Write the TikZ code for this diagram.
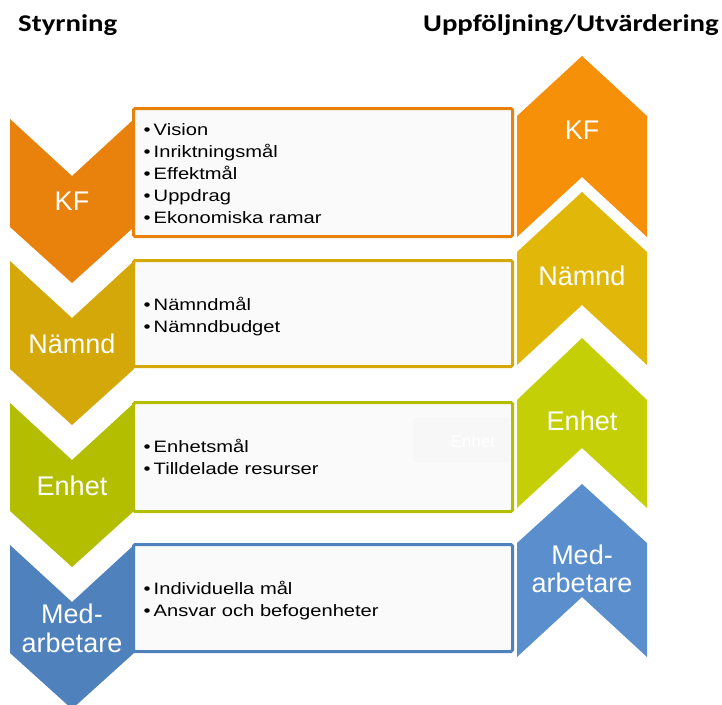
\documentclass[tikz,border=0pt]{standalone}
\usepackage{fontspec}
\setmainfont{Liberation Sans}
\newfontfamily\headfont{Carlito}[FakeStretch=1.2]
\newfontfamily\listfont{Liberation Sans}[FakeStretch=1.22]
\definecolor{kfL}{HTML}{E9820C}
\definecolor{kfR}{HTML}{F79009}
\definecolor{nmL}{HTML}{D3A808}
\definecolor{nmR}{HTML}{E1B80A}
\definecolor{enL}{HTML}{B4BE00}
\definecolor{enR}{HTML}{C4CF06}
\definecolor{mdL}{HTML}{4F81BD}
\definecolor{mdR}{HTML}{5A8ECD}
\definecolor{boxfill}{HTML}{FAFAFA}
\definecolor{ghostfill}{HTML}{F7F7F7}
\tikzset{
  chevlabel/.style={text=white, inner sep=0pt, anchor=base, font=\fontsize{27}{29}\selectfont},
  listline/.style={inner sep=0pt, anchor=base west, font=\listfont\fontsize{16.5}{22}\selectfont},
  infobox/.style={fill=boxfill, line width=3pt, rounded corners=1.5pt},
  heading/.style={inner sep=0pt, anchor=base west, font=\headfont\bfseries\fontsize{24}{28}\selectfont}
}
\newcommand\leftchev[2]{%
  \fill[#1] (10,#2) -- (72,#2+57) -- (134,#2) -- (134,#2+108) -- (72,#2+164) -- (10,#2+108) -- cycle;}
\newcommand\rightchev[5]{%
  \fill[#1] (517,#3) -- (582,#2) -- (647,#3) -- (647,#5) -- (582,#4) -- (517,#5) -- cycle;}
\begin{document}
\begin{tikzpicture}[x=1pt,y=-1pt]
\useasboundingbox (0,0) rectangle (722,704);
% headings
\node[heading] (hstyr) at (18,31) {Styrning};
\node[heading] (hupp) at (423,31) {Uppföljning/Utvärdering};
% left chevrons
\leftchev{kfL}{119}
\leftchev{nmL}{261}
\leftchev{enL}{403}
\leftchev{mdL}{545}
% right chevrons
\rightchev{kfR}{56}{116}{177}{237}
\rightchev{nmR}{192}{252}{305}{365}
\rightchev{enR}{338}{400}{448}{508}
\rightchev{mdR}{484}{543}{597}{657}
% boxes
\draw[infobox, draw=kfL] (133.5,108.5) rectangle (512.5,236.5);
\draw[infobox, draw=nmL] (133.5,260.5) rectangle (512.5,366.5);
\draw[infobox, draw=enL] (133.5,402.5) rectangle (512.5,511.5);
\draw[infobox, draw=mdL] (133.5,544.5) rectangle (512.5,651.5);
% faint ghost text
\fill[ghostfill] (413,418) rectangle (510,462);
\node[text=white, inner sep=0pt, anchor=base, font=\fontsize{17}{20}\selectfont] (ghost) at (473,447) {Enhet};
% left labels
\node[chevlabel] (lkf) at (72,210) {KF};
\node[chevlabel] (lnm) at (72,353) {Nämnd};
\node[chevlabel] (len) at (72,495) {Enhet};
\node[chevlabel] (lmd1) at (72,623) {Med-};
\node[chevlabel] (lmd2) at (72,652) {arbetare};
% right labels
\node[chevlabel] (rkf) at (582,139) {KF};
\node[chevlabel] (rnm) at (582,285) {Nämnd};
\node[chevlabel] (ren) at (582,430) {Enhet};
\node[chevlabel] (rmd1) at (582,564) {Med-};
\node[chevlabel] (rmd2) at (582,592) {arbetare};
% lists
\node[listline] (k1) at (143.5,135) {•\hspace{3pt}Vision};
\node[listline] (k2) at (143.5,157) {•\hspace{3pt}Inriktningsmål};
\node[listline] (k3) at (143.5,179) {•\hspace{3pt}Effektmål};
\node[listline] (k4) at (143.5,201) {•\hspace{3pt}Uppdrag};
\node[listline] (k5) at (143.5,223) {•\hspace{3pt}Ekonomiska ramar};
\node[listline] (n1) at (143.5,310) {•\hspace{3pt}Nämndmål};
\node[listline] (n2) at (143.5,332) {•\hspace{3pt}Nämndbudget};
\node[listline] (e1) at (143.5,452) {•\hspace{3pt}Enhetsmål};
\node[listline] (e2) at (143.5,474) {•\hspace{3pt}Tilldelade resurser};
\node[listline] (m1) at (143.5,594) {•\hspace{3pt}Individuella mål};
\node[listline] (m2) at (143.5,616) {•\hspace{3pt}Ansvar och befogenheter};
\end{tikzpicture}
\end{document}
